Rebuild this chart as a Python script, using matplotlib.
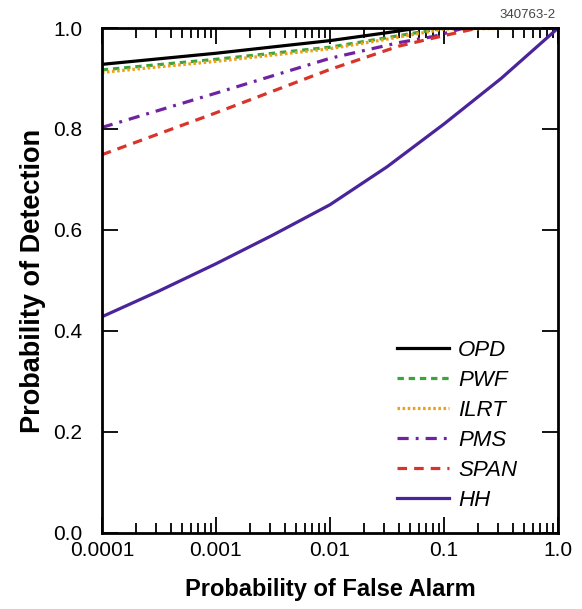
import numpy as np
import matplotlib
matplotlib.use("Agg")
import matplotlib.pyplot as plt
from matplotlib.ticker import LogLocator, FixedLocator, NullFormatter

plt.rcParams['font.family'] = ['Liberation Sans', 'DejaVu Sans']

# ROC curves (false alarm prob -> detection prob)
opd_x = [1e-4, 1e-3, 3e-3, 1e-2, 3e-2, 6e-2, 1.0]
opd_y = [0.928, 0.950, 0.962, 0.975, 0.990, 1.0, 1.0]

pwf_x = [1e-4, 1e-3, 1e-2, 3e-2, 1e-1, 1.0]
pwf_y = [0.917, 0.938, 0.962, 0.980, 1.0, 1.0]

ilrt_x = [1e-4, 1e-3, 1e-2, 3e-2, 1e-1, 1.0]
ilrt_y = [0.912, 0.934, 0.959, 0.977, 0.998, 1.0]

pms_x = [1e-4, 1e-3, 1e-2, 4e-2, 8e-2, 1.5e-1, 1.0]
pms_y = [0.803, 0.871, 0.940, 0.971, 0.983, 1.0, 1.0]

span_x = [1e-4, 1e-3, 1e-2, 4e-2, 1e-1, 2e-1, 1.0]
span_y = [0.749, 0.832, 0.918, 0.964, 0.985, 1.0, 1.0]

hh_x = [1e-4, 3.16e-4, 1e-3, 3.16e-3, 1e-2, 3.16e-2, 1e-1, 3.16e-1, 1.0]
hh_y = [0.428, 0.479, 0.533, 0.590, 0.650, 0.725, 0.810, 0.900, 1.0]

x_ticks = [1e-4, 1e-3, 1e-2, 1e-1, 1.0]
x_labels = ['0.0001', '0.001', '0.01', '0.1', '1.0']
y_ticks = [0.0, 0.2, 0.4, 0.6, 0.8, 1.0]
y_labels = ['0.0', '0.2', '0.4', '0.6', '0.8', '1.0']

fig = plt.figure(figsize=(5.82, 6.09), dpi=100)
ax = fig.add_axes([0.175, 0.125, 0.784, 0.829])

lw = 2.3
ax.plot(opd_x, opd_y, color='black', lw=lw, ls='-', label='OPD')
ax.plot(pwf_x, pwf_y, color='#3aa53a', lw=lw, ls=(0, (2.0, 1.5)), label='PWF')
ax.plot(ilrt_x, ilrt_y, color='#e9a21a', lw=lw, ls=(0, (0.8, 0.8)), label='ILRT')
ax.plot(pms_x, pms_y, color='#7023a0', lw=lw, ls=(0, (3.5, 2.2, 0.9, 2.2)), label='PMS')
ax.plot(span_x, span_y, color='#d9342a', lw=lw, ls=(0, (3.0, 2.2)), label='SPAN')
ax.plot(hh_x, hh_y, color='#4a249a', lw=lw, ls='-', label='HH')

ax.set_xscale('log')
ax.set_xlim(1e-4, 1.0)
ax.set_ylim(0.0, 1.0)
ax.xaxis.set_major_locator(FixedLocator(x_ticks))
ax.set_xticklabels(x_labels)
ax.xaxis.set_minor_locator(LogLocator(base=10, subs=np.arange(2, 10)))
ax.xaxis.set_minor_formatter(NullFormatter())
ax.set_yticks(y_ticks)
ax.set_yticklabels(y_labels)

ax.tick_params(which='both', direction='in', top=True, right=True,
               labelsize=15, width=1.3)
ax.tick_params(which='major', length=11.5)
ax.tick_params(which='minor', length=7.5)
ax.tick_params(axis='x', which='both', pad=6)
ax.tick_params(axis='y', which='both', pad=14)
for s in ax.spines.values():
    s.set_linewidth(2.0)

ax.set_xlabel('Probability of False Alarm', fontsize=17, fontweight='bold', labelpad=13)
ax.set_ylabel('Probability of Detection', fontsize=19.5, fontweight='bold', labelpad=5)

leg = ax.legend(loc='lower left', frameon=False, fontsize=16, handlelength=2.35,
                labelspacing=0.41, handletextpad=0.4, borderpad=0.0,
                borderaxespad=0.0, bbox_to_anchor=(0.647, 0.043))
for t in leg.get_texts():
    t.set_fontstyle('italic')

fig.text(0.955, 0.975, '340763-2', fontsize=9.5, color='#444444', ha='right', va='center')

fig.savefig('out.png', dpi=100)
